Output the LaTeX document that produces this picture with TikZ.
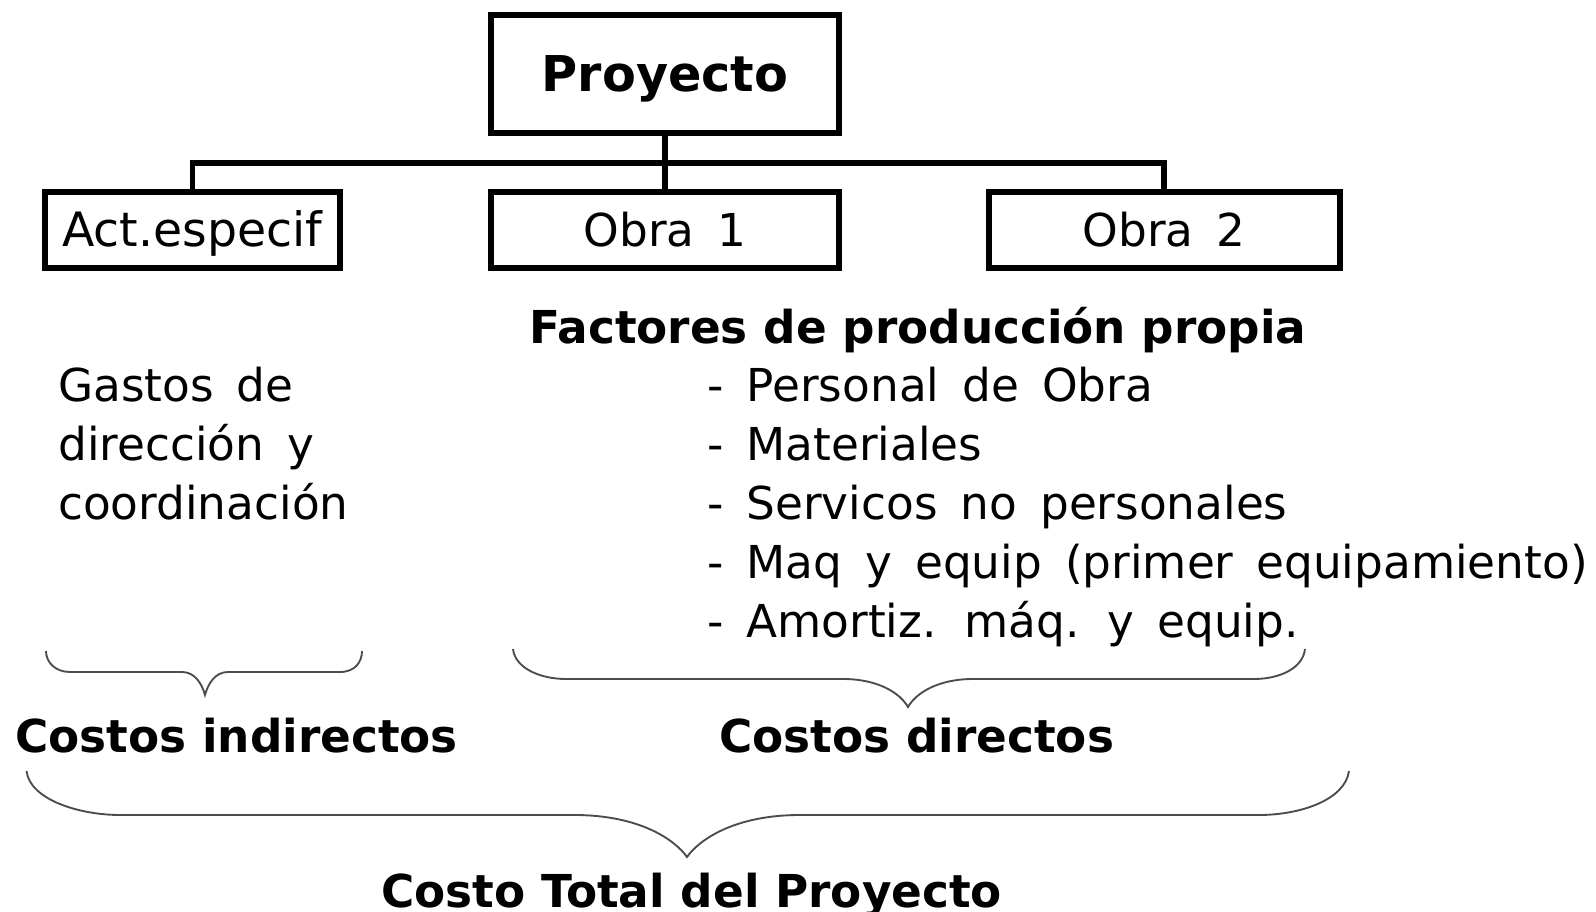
\documentclass[tikz,border=0pt]{standalone}
\usepackage{fontspec}
\setmainfont{DejaVu Sans}[WordSpace=1.6]
\newfontfamily\boldfam{DejaVu Sans Bold}[WordSpace=1.0]
\begin{document}
\begin{tikzpicture}[x=0.75pt,y=-0.75pt,
  box/.style={draw=black,line width=4.5pt,inner sep=0pt,text height=25.5pt,text depth=0pt,font=\fontsize{34}{34}\selectfont},
  conn/.style={draw=black,line width=4pt},
  brace/.style={draw=black!70,line width=1.4pt},
  reg/.style={anchor=base west,inner sep=0pt,font=\fontsize{34}{34}\selectfont},
  bld/.style={anchor=base west,inner sep=0pt,font=\fontsize{34}{34}\selectfont\boldfam}]
\useasboundingbox[fill=white] (0,0) rectangle (1596,912);
% boxes
\node[box,minimum width=261pt,minimum height=88.5pt,text height=27pt,font=\fontsize{37}{37}\selectfont\boldfam] (P) at (665,74) {Proyecto};
\node[box,minimum width=221.6pt,minimum height=57pt,font=\fontsize{35.5}{35.5}\selectfont] (A) at (192.25,230) {Act.especif};
\node[box,minimum width=261pt,minimum height=57pt] (O1) at (665,230) {Obra 1};
\node[box,minimum width=263.25pt,minimum height=57pt] (O2) at (1164,230) {Obra 2};
% connectors
\coordinate (j) at (665,163);
\draw[conn] (P.south) -- (O1.north);
\draw[conn] (A.north) |- (j) -| (O2.north);
% texts
\node[bld] (F) at (529,344) {Factores de producción propia};
\node[reg] (g1) at (58,402) {Gastos de};
\node[reg] (g2) at (58,461) {dirección y};
\node[reg] (g3) at (58,520) {coordinación};
\node[reg] (l1) at (707,402) {- Personal de Obra};
\node[reg] (l2) at (707,461) {- Materiales};
\node[reg] (l3) at (707,520) {- Servicos no personales};
\node[reg] (l4) at (707,579) {- Maq y equip (primer equipamiento)};
\node[reg] (l5) at (707,638) {- Amortiz. máq. y equip.};
% braces
\draw[brace] (46,651) .. controls (46,662) and (55,672) .. (70,672) -- (182,672)
  .. controls (195,672) and (202,684) .. (205,695)
  .. controls (208,684) and (215,672) .. (228,672) -- (340,672)
  .. controls (355,672) and (362,662) .. (362,651);
\draw[brace] (513,649) .. controls (515,668) and (540,679) .. (566,679) -- (843,679)
  .. controls (878,679) and (900,693) .. (908,707)
  .. controls (916,693) and (938,679) .. (973,679) -- (1254,679)
  .. controls (1280,679) and (1303,668) .. (1305,649);
\draw[brace] (26.5,771) .. controls (30,800) and (80,815) .. (120,815) -- (574,815)
  .. controls (640,815) and (675,840) .. (687,857)
  .. controls (699,840) and (734,815) .. (800,815) -- (1259,815)
  .. controls (1300,815) and (1345,800) .. (1349,771);
\node[bld] (ci) at (15,752) {Costos indirectos};
\node[bld] (cd) at (719,752) {Costos directos};
\node[bld] (ct) at (381,907) {Costo Total del Proyecto};
\end{tikzpicture}
\end{document}
